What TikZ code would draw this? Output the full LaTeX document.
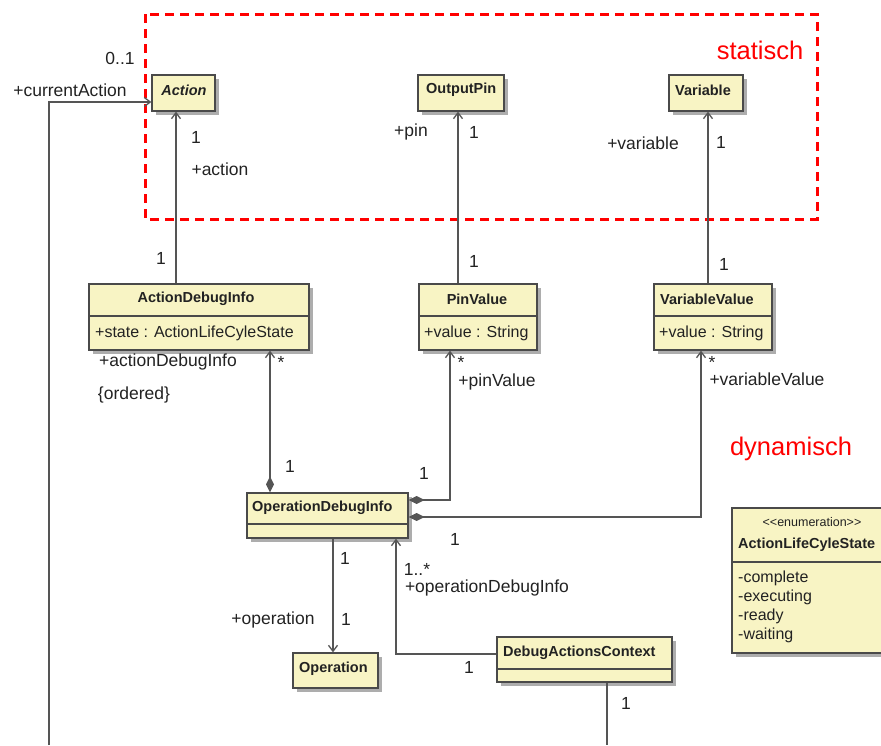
\documentclass[tikz,border=0pt]{standalone}
\usepackage{fontspec}
\setmainfont{Liberation Sans}
\usetikzlibrary{arrows.meta,shadows}

\definecolor{classfill}{HTML}{F8F4C4}
\definecolor{classline}{HTML}{4A4A4A}
\definecolor{shadowgray}{HTML}{ADADAD}
\definecolor{wire}{HTML}{555555}
\definecolor{ink}{HTML}{222222}

\tikzset{
  classbox/.style={draw=classline, line width=1.3pt, fill=classfill, inner sep=0pt,
    drop shadow={shadow xshift=4pt, shadow yshift=-4pt, fill=shadowgray, opacity=1}},
  cname/.style={font=\fontsize{14.5}{17}\bfseries\selectfont, text=ink, inner sep=0pt},
  attr/.style={font=\fontsize{16}{19}\selectfont, text=ink, inner sep=0pt, anchor=west},
  lbl/.style={font=\fontsize{17.5}{20}\selectfont, text=ink, inner sep=0pt},
  divider/.style={draw=classline, line width=1.3pt},
  nav/.style={draw=wire, line width=1.3pt, -{Straight Barb[length=6pt,width=9pt]}},
  comp/.style={draw=wire, line width=1.3pt,
    {Diamond[length=16pt,width=8pt,fill=wire]}-{Straight Barb[length=6pt,width=9pt]}},
  plain/.style={draw=wire, line width=1.3pt},
  region/.style={draw=red, line width=3pt, dash pattern=on 9pt off 6pt},
  regionlabel/.style={font=\fontsize{25.5}{30}\selectfont, text=red, inner sep=0pt}
}

\begin{document}
\begin{tikzpicture}[x=1pt,y=-1pt]
\useasboundingbox (0,0) rectangle (881,745);
\clip (0,0) rectangle (881,745);

% static part
\draw[region] (145,14) rectangle (817,219);
\node[regionlabel] (statisch) at (760,50) {statisch};
\node[regionlabel] (dynamisch) at (791,449) {dynamisch};

% class boxes
\node[classbox, minimum width=63pt, minimum height=36pt] (act) at (183.5,93) {};
\node[cname, font=\fontsize{14.5}{17}\bfseries\itshape\selectfont] (actT) at (184,90) {Action};

\node[classbox, minimum width=86pt, minimum height=36pt] (opin) at (461,93) {};
\node[cname, anchor=west] (opinT) at (426,90) {OutputPin};

\node[classbox, minimum width=74pt, minimum height=36pt] (var) at (706,93) {};
\node[cname, anchor=west] (varT) at (675,90) {Variable};

\node[classbox, minimum width=220pt, minimum height=66pt] (adi) at (199,317) {};
\draw[divider] (adi.west |- 0,316) -- (adi.east |- 0,316);
\node[cname] (adiT) at (196,299) {ActionDebugInfo};
\node[attr] (adiA) at (95,333) {+state : ActionLifeCyleState};

\node[classbox, minimum width=118pt, minimum height=66pt] (pv) at (478,317) {};
\draw[divider] (pv.west |- 0,316) -- (pv.east |- 0,316);
\node[cname] (pvT) at (477,299) {PinValue};
\node[attr] (pvA) at (424,333) {+value : String};

\node[classbox, minimum width=118pt, minimum height=66pt] (vv) at (713,317) {};
\draw[divider] (vv.west |- 0,316) -- (vv.east |- 0,316);
\node[cname, anchor=west] (vvT) at (660,299) {VariableValue};
\node[attr] (vvA) at (659,333) {+value : String};

\node[classbox, minimum width=161pt, minimum height=45pt] (odi) at (327.5,515.5) {};
\draw[divider] (odi.west |- 0,524) -- (odi.east |- 0,524);
\node[cname, anchor=west] (odiT) at (252,508) {OperationDebugInfo};

\node[classbox, minimum width=85pt, minimum height=35pt] (op) at (335.5,670.5) {};
\node[cname, anchor=west] (opT) at (299,669) {Operation};

\node[classbox, minimum width=175pt, minimum height=45pt] (dac) at (584.5,659.5) {};
\draw[divider] (dac.west |- 0,669) -- (dac.east |- 0,669);
\node[cname, anchor=west] (dacT) at (503,653) {DebugActionsContext};

\node[classbox, minimum width=156pt, minimum height=145pt] (enum) at (810,580.5) {};
\draw[divider] (enum.west |- 0,562) -- (enum.east |- 0,562);
\node[inner sep=0pt, font=\fontsize{12.5}{15}\selectfont, text=ink] (enumS) at (812,522) {<{}<enumeration>{}>};
\node[cname, anchor=west] (enumT) at (738,545) {ActionLifeCyleState};
\node[attr] (l1) at (738,578) {-complete};
\node[attr] (l2) at (738,597) {-executing};
\node[attr] (l3) at (738,616) {-ready};
\node[attr] (l4) at (738,635) {-waiting};

% associations
\coordinate (caStart) at (49,745);
\draw[nav] (caStart) |- (act.west |- 0,102);
\node[lbl] at (120,58) {0..1};
\node[lbl] at (70,90) {+currentAction};

\draw[nav] (adi.north -| 176,0) -- (act.south -| 176,0);
\node[lbl] at (196,137) {1};
\node[lbl] at (220,169) {+action};
\node[lbl] at (161,258) {1};

\draw[nav] (pv.north -| 458,0) -- (opin.south -| 458,0);
\node[lbl] at (411,132) {+pin};
\node[lbl] at (474,132) {1};
\node[lbl] at (474,261) {1};

\draw[nav] (vv.north -| 708,0) -- (var.south -| 708,0);
\node[lbl] at (643,143) {+variable};
\node[lbl] at (721,142) {1};
\node[lbl] at (724,264) {1};

\draw[comp] (odi.north -| 270,0) -- (adi.south -| 270,0);
\node[lbl] at (281,362) {*};
\node[lbl] at (168,362) {+actionDebugInfo};
\node[lbl] at (134,395) {\{ordered\}};
\node[lbl] at (290,466) {1};

\draw[comp] (odi.east |- 0,500) -| (pv.south -| 450,0);
\node[lbl] at (461,362) {*};
\node[lbl] at (497,382) {+pinValue};
\node[lbl] at (424,473) {1};

\draw[comp] (odi.east |- 0,517) -| (vv.south -| 701,0);
\node[lbl] at (712,362) {*};
\node[lbl] at (767,379) {+variableValue};
\node[lbl] at (455,539) {1};

\draw[nav] (odi.south -| 333,0) -- (op.north -| 333,0);
\node[lbl] at (345,558) {1};
\node[lbl] at (273,620) {+operation};
\node[lbl] at (346,619) {1};

\draw[nav] (dac.west |- 0,654) -| (odi.south -| 396,0);
\node[lbl] at (417,569) {1..*};
\node[lbl] at (487,588) {+operationDebugInfo};
\node[lbl] at (469,667) {1};

\coordinate (dacEnd) at (607,745);
\draw[plain] (dac.south -| 607,0) -- (dacEnd);
\node[lbl] at (626,703) {1};
\end{tikzpicture}
\end{document}
